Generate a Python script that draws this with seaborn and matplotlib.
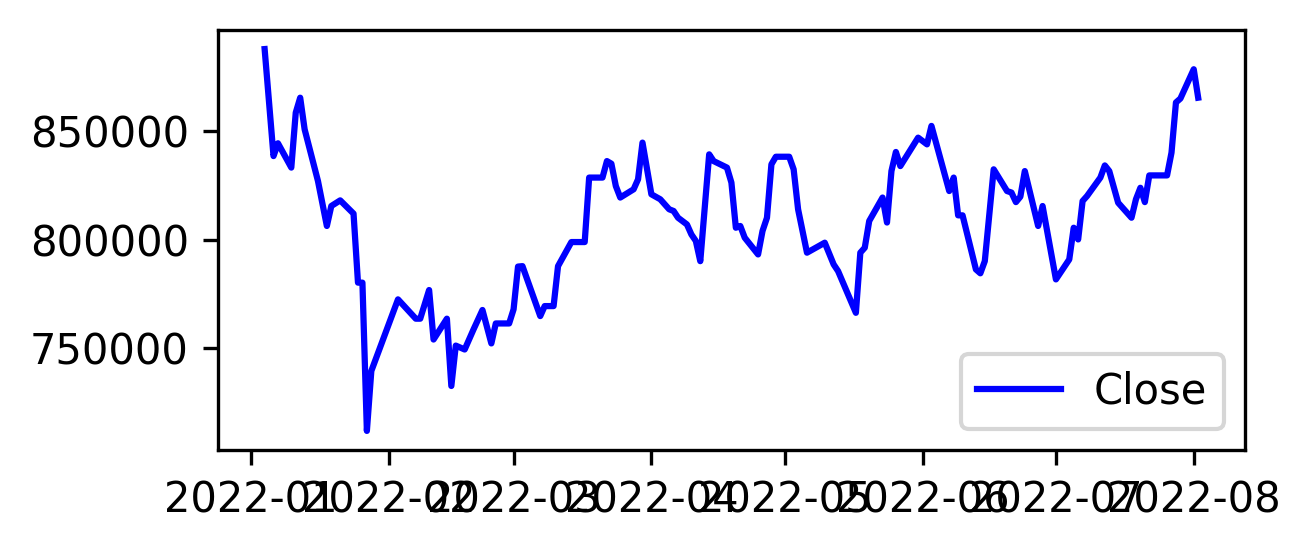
import pandas as pd
import seaborn as sns
import matplotlib
matplotlib.use("Agg")
import matplotlib.pyplot as plt


# closing prices (turning points)
dates = [
    "2022-01-04", "2022-01-06", "2022-01-07", "2022-01-10", "2022-01-11", "2022-01-12",
    "2022-01-13", "2022-01-16", "2022-01-18", "2022-01-19", "2022-01-21", "2022-01-24",
    "2022-01-25", "2022-01-26", "2022-01-27", "2022-01-28", "2022-02-03", "2022-02-07",
    "2022-02-08", "2022-02-10", "2022-02-11", "2022-02-14", "2022-02-15", "2022-02-16",
    "2022-02-18", "2022-02-20", "2022-02-22", "2022-02-24", "2022-02-25", "2022-02-28",
    "2022-03-01", "2022-03-02", "2022-03-03", "2022-03-07", "2022-03-08", "2022-03-10",
    "2022-03-11", "2022-03-14", "2022-03-17", "2022-03-18", "2022-03-21", "2022-03-22",
    "2022-03-23", "2022-03-24", "2022-03-25", "2022-03-28", "2022-03-29", "2022-03-30",
    "2022-04-01", "2022-04-03", "2022-04-04", "2022-04-05", "2022-04-06", "2022-04-07",
    "2022-04-09", "2022-04-10", "2022-04-11", "2022-04-12", "2022-04-14", "2022-04-15",
    "2022-04-18", "2022-04-19", "2022-04-20", "2022-04-21", "2022-04-22", "2022-04-25",
    "2022-04-26", "2022-04-27", "2022-04-28", "2022-04-29", "2022-05-02", "2022-05-03",
    "2022-05-04", "2022-05-06", "2022-05-10", "2022-05-12", "2022-05-13", "2022-05-17",
    "2022-05-18", "2022-05-19", "2022-05-20", "2022-05-23", "2022-05-24", "2022-05-25",
    "2022-05-26", "2022-05-27", "2022-05-31", "2022-06-02", "2022-06-03", "2022-06-07",
    "2022-06-08", "2022-06-09", "2022-06-10", "2022-06-13", "2022-06-14", "2022-06-15",
    "2022-06-17", "2022-06-20", "2022-06-21", "2022-06-22", "2022-06-23", "2022-06-24",
    "2022-06-27", "2022-06-28", "2022-07-01", "2022-07-04", "2022-07-05", "2022-07-06",
    "2022-07-07", "2022-07-08", "2022-07-11", "2022-07-12", "2022-07-13", "2022-07-15",
    "2022-07-18", "2022-07-19", "2022-07-20", "2022-07-21", "2022-07-22", "2022-07-26",
    "2022-07-27", "2022-07-28", "2022-07-29", "2022-08-01", "2022-08-02",
]
close = [
    887900, 838600, 844500, 833300, 858600, 865500,
    850900, 827100, 806400, 815600, 818200, 812100,
    780300, 780300, 712000, 739600, 772600, 763700,
    763700, 776900, 754100, 763700, 732700, 751300,
    749500, 758800, 767700, 752300, 761500, 761500,
    768000, 787700, 787900, 764900, 769500, 769500,
    787900, 799000, 799000, 828700, 828700, 836300,
    835100, 824800, 819500, 823300, 827900, 844800,
    821000, 818700, 816400, 814100, 813300, 810200,
    807100, 802500, 799500, 790200, 839400, 836300,
    833300, 826400, 805600, 806400, 801000, 793300,
    804100, 810200, 834800, 838300, 838300, 832500,
    814100, 794100, 798700, 788700, 785600, 766400,
    794100, 796400, 808700, 819500, 808000, 831700,
    840500, 834000, 847100, 844000, 852500, 822500,
    828700, 811300, 811300, 786400, 784600, 790200,
    832500, 822500, 821800, 817400, 819900, 831700,
    806400, 815600, 781800, 791000, 805600, 800200,
    817900, 820200, 828700, 834300, 831700, 817100,
    810200, 818700, 824000, 817400, 829700, 829700,
    840200, 863300, 865100, 878600, 865500,
]

df = pd.DataFrame({"Date": pd.to_datetime(dates), "Close": close})

fig, ax = plt.subplots(figsize=(1309 / 300, 551 / 300), dpi=300)
fig.subplots_adjust(left=0.1665, right=0.951, top=0.9456, bottom=0.1833)

sns.lineplot(data=df, x="Date", y="Close", color="blue", label="Close", ax=ax)
ax.set_xlabel("")
ax.set_ylabel("")
ax.legend(loc="lower right")

plt.savefig("out.png", dpi=300)
